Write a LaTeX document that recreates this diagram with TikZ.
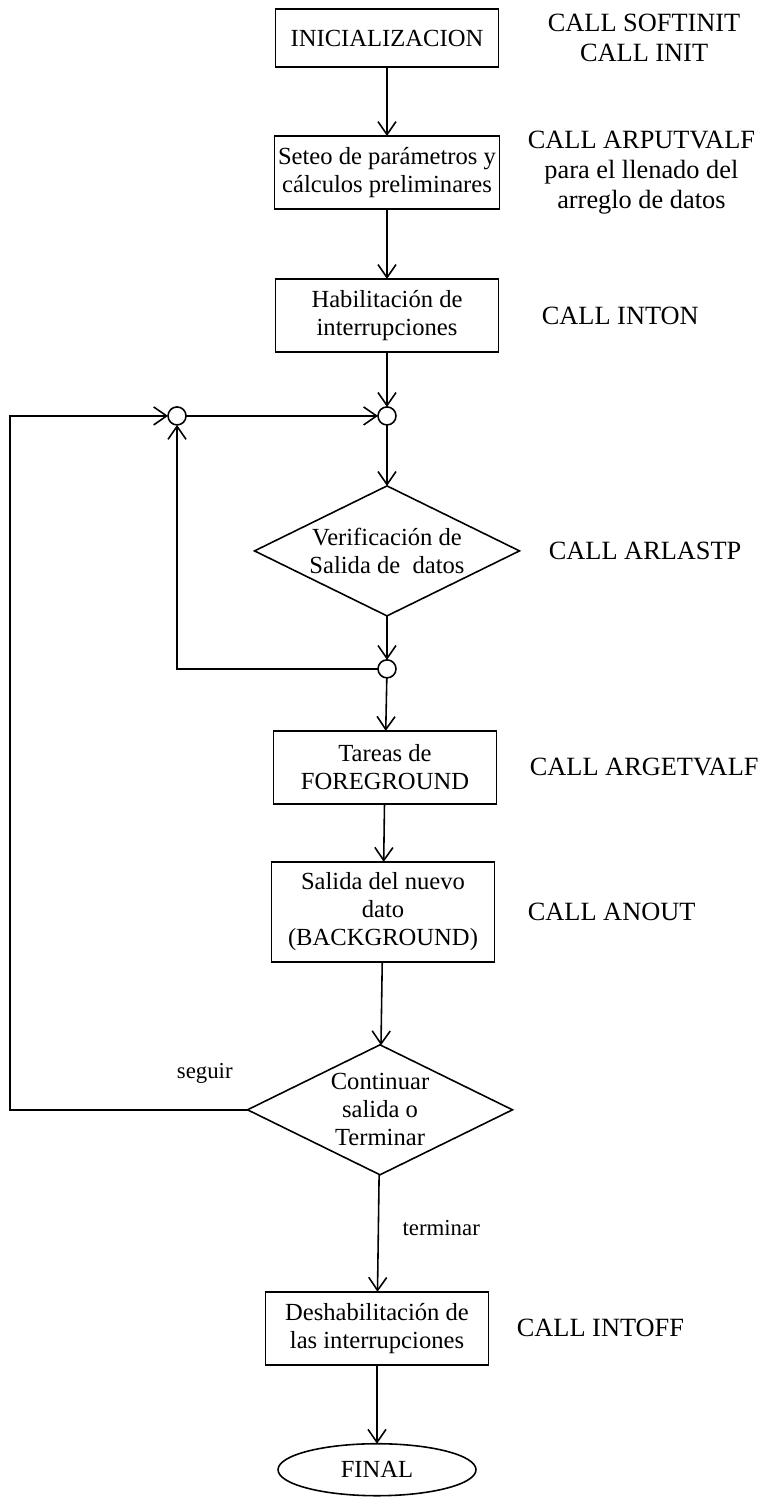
\documentclass[tikz,border=0pt]{standalone}
\usepackage{fontspec}
\setmainfont{Liberation Serif}
\usetikzlibrary{arrows.meta,positioning,shapes.geometric}

\begin{document}
\begin{tikzpicture}[
    x=0.02cm, y=-0.02cm,
    proc/.style={rectangle, draw, line width=0.9pt, outer sep=0pt, minimum width=4.46cm, minimum height=1.46cm, inner sep=2pt, align=center, font=\fontsize{14}{16}\selectfont},
    decision/.style={diamond, draw, line width=0.9pt, outer sep=0pt, aspect=2, inner sep=0pt, minimum width=5.3cm, minimum height=2.6cm, align=center, font=\fontsize{14}{16}\selectfont},
    junction/.style={circle, draw, line width=0.9pt, outer sep=0pt, minimum size=0.36cm, inner sep=0pt},
    terminal/.style={ellipse, draw, line width=0.9pt, outer sep=0pt, minimum width=3.96cm, minimum height=1.04cm, font=\fontsize{14}{16}\selectfont},
    call/.style={align=center, inner sep=0pt, font=\fontsize{15}{17}\selectfont},
    lbl/.style={font=\fontsize{13}{15}\selectfont},
    arrow/.style={-{Straight Barb[length=2.6mm,width=3.6mm]}, line width=0.9pt}
  ]
    \useasboundingbox (0,0) rectangle (761,1498);
    \node[proc, minimum height=1.16cm] (ini) at (387,38) {INICIALIZACION};
    \node[proc, below=1.38cm of ini] (set) {Seteo de parámetros y\\cálculos preliminares};
    \node[proc, below=1.4cm of set] (hab) {Habilitación de\\interrupciones};
    \node[junction, below=1.1cm of hab] (jr) {};
    \node[junction, left=3.84cm of jr] (jl) {};
    \coordinate[left=3.16cm of jl] (loop);
    \node[decision, below=1.22cm of jr] (ver) {Verificación de\\Salida de\ \ datos};
    \node[junction, below=0.88cm of ver] (jd) {};
    \node[proc, below=1.06cm of jd, xshift=-0.04cm] (tar) {Tareas de\\FOREGROUND};
    \node[proc, below=1.16cm of tar, minimum height=2cm, xshift=-0.04cm] (sal) {Salida del nuevo\\dato\\(BACKGROUND)};
    \node[decision, below=1.66cm of sal, xshift=-0.06cm] (con) {Continuar\\salida o\\Terminar};
    \node[proc, below=2.34cm of con, xshift=-0.06cm] (des) {Deshabilitación de\\las interrupciones};
    \node[terminal, below=1.58cm of des] (fin) {FINAL};

    \node[call, right=0.98cm of ini] (cini) {CALL SOFTINIT\\CALL INIT};
    \node[call, right=0.56cm of set] (cset) {CALL ARPUTVALF\\para el llenado del\\arreglo de datos};
    \node[call, right=0.86cm of hab] (chab) {CALL INTON};
    \node[call, right=0.58cm of ver] (cver) {CALL ARLASTP};
    \node[call, right=0.66cm of tar] (ctar) {CALL ARGETVALF};
    \node[call, right=0.66cm of sal] (csal) {CALL ANOUT};
    \node[call, right=0.56cm of des] (cdes) {CALL INTOFF};

    \draw[arrow] (ini) -- (set);
    \draw[arrow] (set) -- (hab);
    \draw[arrow] (hab) -- (jr);
    \draw[arrow] (jl) -- (jr);
    \draw[arrow] (jr) -- (ver);
    \draw[arrow] (ver) -- (jd);
    \draw[arrow] (jd) -| (jl);
    \draw[arrow] (jd) -- (tar);
    \draw[arrow] (tar) -- (sal);
    \draw[arrow] (sal) -- (con);
    \draw[arrow] (con.west) -| node[lbl, above=0.4cm, pos=0.09] {seguir} (loop) -- (jl);
    \draw[arrow] (con) -- node[lbl, right=0.35cm, pos=0.46] {terminar} (des);
    \draw[arrow] (des) -- (fin);
  \end{tikzpicture}
\end{document}
